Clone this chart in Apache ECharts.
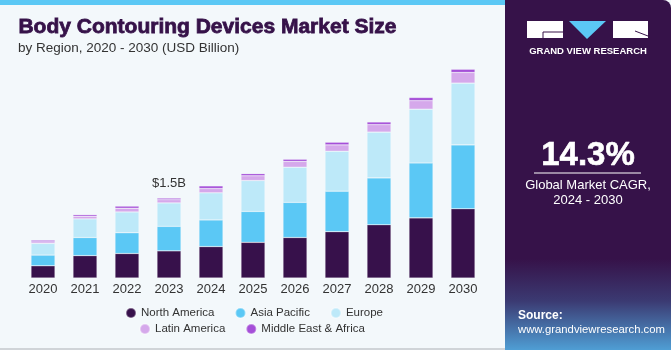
<!DOCTYPE html>
<html>
<head>
    <meta charset="UTF-8">
    <title>Body Contouring Devices Market Size</title>
    <style>
        html, body { margin: 0; padding: 0; overflow: hidden; background: #f3f8fb; }
        #chart { width: 671px; height: 350px; }
    </style>
    <script src="https://cdn.jsdelivr.net/npm/echarts@6/dist/echarts.min.js"></script>
</head>
<body>
<div id="chart"></div>
<script>
    // values in USD Billion
    const years = ['2020', '2021', '2022', '2023', '2024', '2025', '2026', '2027', '2028', '2029', '2030'];
    const northAmerica = [0.23, 0.42, 0.46, 0.51, 0.59, 0.67, 0.76, 0.87, 1.00, 1.13, 1.30];
    const asiaPacific = [0.20, 0.34, 0.39, 0.46, 0.50, 0.58, 0.66, 0.76, 0.88, 1.03, 1.20];
    const europe = [0.22, 0.35, 0.39, 0.44, 0.51, 0.58, 0.66, 0.75, 0.86, 1.01, 1.16];
    const latinAmerica = [0.03, 0.05, 0.07, 0.06, 0.08, 0.09, 0.11, 0.12, 0.14, 0.16, 0.20];
    const middleEastAfrica = [0.03, 0.03, 0.04, 0.03, 0.05, 0.04, 0.04, 0.05, 0.05, 0.06, 0.06];
    const calloutIndex = 3;
    const calloutText = '$1.5B';

    const seriesDefs = [
        ['North America', northAmerica, '#37114b'],
        ['Asia Pacific', asiaPacific, '#5bc8f5'],
        ['Europe', europe, '#bde9f9'],
        ['Latin America', latinAmerica, '#d5a8eb'],
        ['Middle East & Africa', middleEastAfrica, '#a54fd8']
    ];

    const chart = echarts.init(document.getElementById('chart'), null, {renderer: 'canvas'});

    const series = seriesDefs.map(([name, values, color], i) => {
        const last = i === seriesDefs.length - 1;
        return {
            name: name,
            type: 'bar',
            stack: 'total',
            barWidth: 24,
            itemStyle: {color: color, borderColor: 'rgba(255,255,255,0.35)', borderWidth: 0.6},
            data: values.map((v, k) => {
                if (last && k === calloutIndex) {
                    return {
                        value: v,
                        label: {
                            show: true, position: 'top', distance: 8,
                            formatter: calloutText, color: '#333', fontSize: 13,
                            fontFamily: 'Liberation Sans'
                        }
                    };
                }
                return v;
            })
        };
    });

    const legendText = {color: '#333', fontSize: 11.5, fontFamily: 'Liberation Sans'};

    const option = {
        backgroundColor: '#f3f8fb',
        animation: false,
        grid: {left: 22, width: 462, top: 65, bottom: 72, containLabel: false},
        xAxis: {
            type: 'category',
            data: years,
            axisLine: {show: false},
            axisTick: {show: false},
            axisLabel: {color: '#333', fontSize: 13, margin: 5, fontFamily: 'Liberation Sans'}
        },
        yAxis: {
            type: 'value', min: 0, max: 4,
            show: false, splitLine: {show: false}
        },
        legend: [
            {
                data: ['North America', 'Asia Pacific', 'Europe'],
                left: 125, top: 307, padding: 0, icon: 'circle', itemWidth: 10, itemHeight: 10, itemGap: 20,
                textStyle: legendText
            },
            {
                data: ['Latin America', 'Middle East & Africa'],
                left: 139, top: 323, padding: 0, icon: 'circle', itemWidth: 10, itemHeight: 10, itemGap: 20,
                textStyle: legendText
            }
        ],
        graphic: [
            // top accent bar
            {type: 'rect', shape: {x: 0, y: 0, width: 505, height: 5}, style: {fill: '#5bc8f5'}},
            // title block
            {type: 'text', left: 18, top: 16, style: {text: 'Body Contouring Devices Market Size',
                fill: '#361249', stroke: '#361249', lineWidth: 0.8, font: 'bold 21px "Liberation Sans"'}},
            {type: 'text', left: 18, top: 41, style: {text: 'by Region, 2020 - 2030 (USD Billion)',
                fill: '#333', font: '13.5px "Liberation Sans"'}},
            // right panel
            {type: 'rect', shape: {x: 505, y: 0, width: 166, height: 350, r: [0, 8, 0, 0]},
                style: {fill: new echarts.graphic.LinearGradient(0, 0, 0, 1, [
                    {offset: 0, color: '#361249'},
                    {offset: 0.74, color: '#361249'},
                    {offset: 0.86, color: '#3b3a72'},
                    {offset: 1, color: '#4f9ed4'}
                ])}},
            // logo
            {type: 'rect', shape: {x: 527, y: 21, width: 36, height: 17}, style: {fill: '#fff'}},
            {type: 'polygon', shape: {points: [[569, 21], [606, 21], [587, 39]]}, style: {fill: '#5bc8f5'}},
            {type: 'rect', shape: {x: 613, y: 21, width: 35, height: 17}, style: {fill: '#fff'}},
            {type: 'line', shape: {x1: 543, y1: 32, x2: 563, y2: 32}, style: {stroke: '#361249', lineWidth: 1}},
            {type: 'line', shape: {x1: 543, y1: 32, x2: 543, y2: 38}, style: {stroke: '#361249', lineWidth: 1}},
            {type: 'line', shape: {x1: 635, y1: 31, x2: 648, y2: 36}, style: {stroke: '#361249', lineWidth: 1}},
            {type: 'text', x: 588, y: 51, style: {text: 'GRAND VIEW RESEARCH', fill: '#fff',
                font: 'bold 9.5px "Liberation Sans"', align: 'center', verticalAlign: 'middle'}},
            // CAGR
            {type: 'text', x: 588, y: 156, style: {text: '14.3%', fill: '#fff', stroke: '#fff', lineWidth: 0.6,
                font: 'bold 33px "Liberation Sans"', align: 'center', verticalAlign: 'middle'}},
            {type: 'line', shape: {x1: 534, y1: 173, x2: 641, y2: 173}, style: {stroke: '#fff', lineWidth: 1}},
            {type: 'text', x: 588, y: 185, style: {text: 'Global Market CAGR,', fill: '#fff',
                font: '13px "Liberation Sans"', align: 'center', verticalAlign: 'middle'}},
            {type: 'text', x: 588, y: 200, style: {text: '2024 - 2030', fill: '#fff',
                font: '13px "Liberation Sans"', align: 'center', verticalAlign: 'middle'}},
            // source
            {type: 'text', x: 518, y: 316, style: {text: 'Source:', fill: '#fff',
                font: 'bold 12px "Liberation Sans"', verticalAlign: 'middle'}},
            {type: 'text', x: 518, y: 330, style: {text: 'www.grandviewresearch.com', fill: '#fff',
                font: '11.3px "Liberation Sans"', verticalAlign: 'middle'}},
            // bottom rule under chart area
            {type: 'rect', shape: {x: 0, y: 348, width: 505, height: 2}, style: {fill: '#d0d4d8'}}
        ],
        series: series
    };

    chart.setOption(option);
</script>
</body>
</html>
